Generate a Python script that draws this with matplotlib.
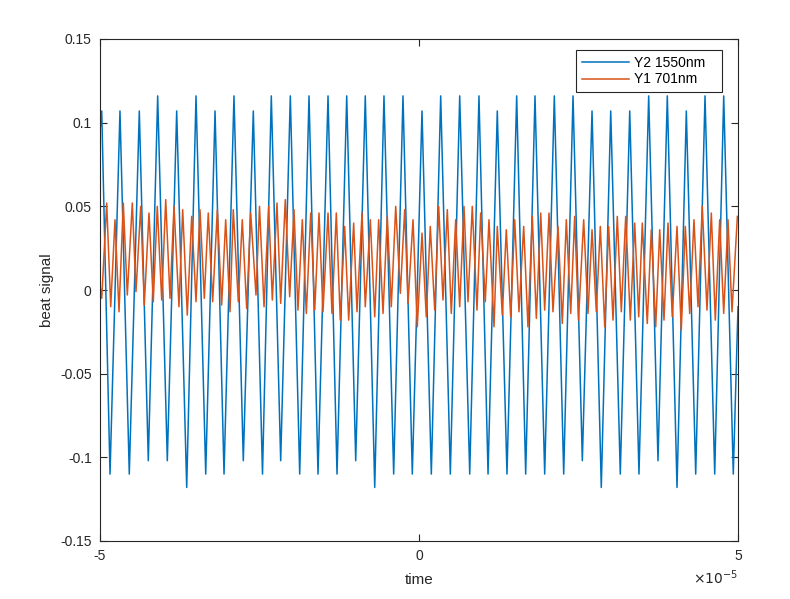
import numpy as np
import matplotlib
matplotlib.use("Agg")
import matplotlib.pyplot as plt

plt.rcParams['font.family'] = ['Liberation Sans', 'DejaVu Sans']
plt.rcParams['axes.unicode_minus'] = False

# time in units of 1e-5, extrema
t_y2 = [-5.0, -4.973, -4.843, -4.687, -4.541, -4.384, -4.243, -4.096, -3.945, -3.798, -3.641,
        -3.495, -3.343, -3.197, -3.056, -2.900, -2.754, -2.597, -2.453, -2.315, -2.168,
        -2.017, -1.870, -1.724, -1.583, -1.426, -1.285, -1.133, -0.992, -0.842, -0.694,
        -0.549, -0.397, -0.251, -0.105, 0.047, 0.193, 0.340, 0.491, 0.638, 0.795,
        0.940, 1.082, 1.227, 1.379, 1.531, 1.672, 1.818, 1.970, 2.121, 2.268,
        2.414, 2.560, 2.712, 2.857, 3.005, 3.155, 3.303, 3.448, 3.600, 3.746,
        3.892, 4.044, 4.190, 4.337, 4.483, 4.635, 4.776, 4.926, 5.0]
y2 = [0.095, 0.107, -0.110, 0.107, -0.110, 0.107, -0.102, 0.116, -0.102, 0.107, -0.118,
      0.116, -0.110, 0.107, -0.110, 0.116, -0.102, 0.107, -0.110, 0.116, -0.102,
      0.116, -0.110, 0.116, -0.110, 0.116, -0.110, 0.116, -0.102, 0.116, -0.118,
      0.116, -0.110, 0.116, -0.110, 0.107, -0.110, 0.116, -0.110, 0.116, -0.110,
      0.116, -0.110, 0.107, -0.110, 0.116, -0.110, 0.116, -0.110, 0.116, -0.110,
      0.116, -0.102, 0.107, -0.118, 0.107, -0.110, 0.107, -0.110, 0.116, -0.102,
      0.116, -0.118, 0.107, -0.110, 0.116, -0.110, 0.116, -0.110, -0.010]

t_y1 = [-5.0, -4.973, -4.895, -4.832, -4.765, -4.702, -4.635, -4.572, -4.494, -4.436,
        -4.362, -4.306, -4.232, -4.165, -4.102, -4.033, -3.970, -3.903, -3.840, -3.762,
        -3.704, -3.632, -3.563, -3.495, -3.433, -3.365, -3.303, -3.234, -3.161, -3.093,
        -3.030, -2.962, -2.911, -2.832, -2.770, -2.701, -2.638, -2.555, -2.500, -2.429,
        -2.356, -2.299, -2.226, -2.168, -2.096, -2.027, -1.959, -1.897, -1.829, -1.766,
        -1.697, -1.634, -1.567, -1.505, -1.426, -1.364, -1.296, -1.234, -1.165, -1.102,
        -1.024, -0.972, -0.893, -0.842, -0.763, -0.694, -0.632, -0.564, -0.497, -0.434,
        -0.365, -0.293, -0.224, -0.172, -0.094, -0.027, 0.047, 0.114, 0.177, 0.246,
        0.309, 0.376, 0.444, 0.506, 0.575, 0.638, 0.705, 0.768, 0.835, 0.909,
        0.967, 1.039, 1.097, 1.176, 1.227, 1.306, 1.368, 1.437, 1.500, 1.567,
        1.641, 1.708, 1.776, 1.839, 1.908, 1.970, 2.038, 2.100, 2.179, 2.246,
        2.309, 2.378, 2.440, 2.500, 2.581, 2.649, 2.712, 2.779, 2.842, 2.911,
        2.973, 3.041, 3.108, 3.171, 3.240, 3.312, 3.381, 3.444, 3.500, 3.578,
        3.641, 3.710, 3.773, 3.840, 3.903, 3.970, 4.044, 4.111, 4.174, 4.243,
        4.310, 4.373, 4.440, 4.514, 4.582, 4.644, 4.713, 4.776, 4.843, 4.906,
        4.99]
y1 = [0.003, -0.005, 0.052, -0.010, 0.042, -0.013, 0.052, -0.003, 0.052, -0.001,
      0.050, -0.009, 0.046, -0.007, 0.050, -0.006, 0.054, -0.005, 0.050, -0.010,
      0.048, -0.015, 0.044, -0.007, 0.048, -0.005, 0.046, -0.007, 0.048, -0.009,
      0.042, -0.013, 0.048, -0.007, 0.042, -0.011, 0.046, -0.003, 0.050, -0.010,
      0.050, -0.006, 0.052, -0.008, 0.054, -0.004, 0.048, -0.012, 0.042, -0.014,
      0.046, -0.012, 0.046, -0.013, 0.046, -0.014, 0.046, -0.018, 0.038, -0.018,
      0.040, -0.013, 0.046, -0.010, 0.042, -0.016, 0.042, -0.014, 0.044, -0.010,
      0.050, -0.002, 0.048, -0.008, 0.042, -0.022, 0.034, -0.016, 0.038, -0.012,
      0.050, -0.006, 0.048, -0.014, 0.042, -0.010, 0.050, -0.007, 0.050, -0.012,
      0.046, -0.007, 0.042, -0.022, 0.038, -0.015, 0.036, -0.016, 0.042, -0.013,
      0.038, -0.022, 0.044, -0.017, 0.046, -0.012, 0.046, -0.013, 0.038, -0.020,
      0.042, -0.014, 0.044, -0.018, 0.042, -0.014, 0.036, -0.013, 0.038, -0.022,
      0.038, -0.018, 0.044, -0.013, 0.044, -0.018, 0.040, -0.016, 0.040, -0.020,
      0.036, -0.022, 0.036, -0.018, 0.040, -0.016, 0.038, -0.024, 0.038, -0.014,
      0.042, -0.010, 0.050, -0.012, 0.046, -0.018, 0.042, -0.014, 0.042, -0.013,
      0.044]

xticks = [-5, 0, 5]
yticks = [-0.15, -0.1, -0.05, 0, 0.05, 0.1, 0.15]
ytick_labels = ['-0.15', '-0.1', '-0.05', '0', '0.05', '0.1', '0.15']

fig = plt.figure(figsize=(7.9, 5.99), dpi=100)
ax = fig.add_axes([100/790, 1 - 541/599, 638/790, 502/599])

# trailing spaces widen the legend box on the right like MATLAB does
ax.plot(t_y2, y2, color='#0072BD', lw=1.1, label='Y2 1550nm   ')
ax.plot(t_y1, y1, color='#D95319', lw=1.1, label='Y1 701nm')

ax.set_xlim(-5, 5)
ax.set_ylim(-0.15, 0.15)
ax.set_xticks(xticks)
ax.set_xticklabels([str(v) for v in xticks])
ax.set_yticks(yticks)
ax.set_yticklabels(ytick_labels)

dark = '#262626'
for s in ax.spines.values():
    s.set_color(dark)
    s.set_linewidth(0.8)
ax.tick_params(direction='in', top=True, right=True, length=5, width=0.8,
               colors=dark, labelsize=10, pad=6)

ax.set_xlabel('time', fontsize=11, color=dark, labelpad=7)
ax.set_ylabel('beat signal', fontsize=11, color=dark, labelpad=4)
ax.text(1.0, -0.055, r'$\times10^{-5}$', transform=ax.transAxes, ha='right', va='top',
        fontsize=10, color=dark)

leg = ax.legend(loc='upper right', bbox_to_anchor=(0.975, 0.978), fontsize=10,
                fancybox=False, framealpha=1, edgecolor=dark, borderpad=0.4,
                handlelength=3.45, labelspacing=0.2, handletextpad=0.3, borderaxespad=0)
leg.get_frame().set_linewidth(0.8)

plt.savefig('out.png', dpi=100)
